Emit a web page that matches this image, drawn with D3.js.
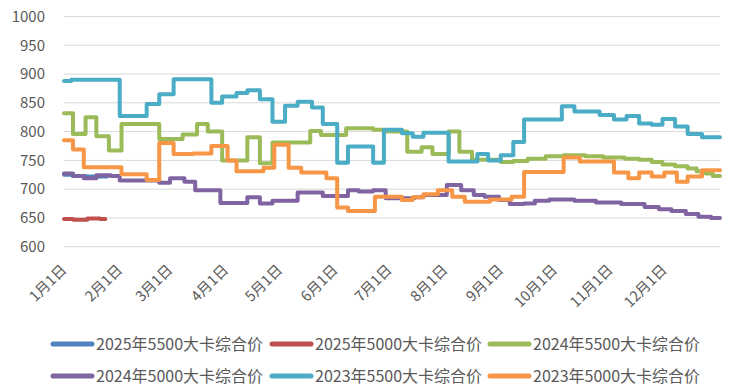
<!DOCTYPE html>
<html><head><meta charset="utf-8">
<script src="https://cdn.jsdelivr.net/npm/d3@7"></script>
<style>
html,body{margin:0;padding:0;background:#fff;}
text{font-family:"Noto Sans CJK SC","Noto Sans",sans-serif;fill:#595959;}
</style></head>
<body><svg id="c" width="734" height="390"></svg>
<script>
// ---- data (day of year, value at change points) ----
const seriesNames = ["2025年5500大卡综合价","2025年5000大卡综合价","2024年5500大卡综合价","2024年5000大卡综合价","2023年5500大卡综合价","2023年5000大卡综合价"];
const seriesColors = ["#4f81bd","#c0504d","#9bbb59","#8064a2","#4bacc6","#f79646"];
const yTicks = [600,650,700,750,800,850,900,950,1000];
const monthStartDays = [0,31,59,90,120,151,181,212,243,273,304,334];
const monthLabels = ["1月1日","2月1日","3月1日","4月1日","5月1日","6月1日","7月1日","8月1日","9月1日","10月1日","11月1日","12月1日"];

const days2025_5500 = [0,5,12,24];
const vals2025_5500 = [725,723,722,722];
const days2025_5000 = [0,5,13,20,23];
const vals2025_5000 = [648,647,649,648,648];
const days2024_5500 = [0,5,12,18,25,32,53,66,74,80,88,102,109,116,137,143,157,172,178,191,199,205,214,220,227,243,250,258,268,278,290,300,312,320,327,333,340,347,352,357,361,365];
const vals2024_5500 = [832,796,825,792,767,813,787,795,813,800,750,790,745,781,801,794,806,803,800,765,773,761,800,765,751,747,749,753,757,759,757,755,753,751,747,743,740,736,731,727,723,723];
const days2024_5000 = [0,5,11,18,26,31,53,59,67,73,87,102,109,116,130,144,158,164,172,179,195,200,213,221,228,234,242,248,256,262,270,284,296,310,323,331,338,346,353,360,365];
const vals2024_5000 = [727,723,719,724,723,715,711,719,713,698,676,686,675,680,694,688,698,696,698,684,686,690,707,698,690,687,681,674,675,680,682,680,677,674,669,665,662,657,652,650,650];
const days2023_5500 = [0,4,31,46,53,61,82,88,96,102,109,116,123,130,138,144,152,158,172,178,188,194,200,214,230,236,243,250,256,277,284,298,306,313,320,327,333,340,347,355,365];
const vals2023_5500 = [888,890,827,848,865,891,850,861,867,872,856,817,845,852,842,813,746,774,746,803,797,791,798,748,761,750,759,782,821,844,835,829,821,827,814,812,822,809,796,790,790];
const days2023_5000 = [0,5,11,32,46,53,61,72,82,91,96,111,117,125,132,146,152,158,173,188,194,200,208,216,223,237,249,256,278,287,306,314,320,327,334,341,347,355,365];
const vals2023_5000 = [785,769,738,726,716,780,761,762,775,750,731,737,777,737,729,719,668,662,687,681,686,691,698,687,678,682,687,730,755,748,729,719,729,722,729,713,722,733,733];

const allDays = [days2025_5500,days2025_5000,days2024_5500,days2024_5000,days2023_5500,days2023_5000];
const allVals = [vals2025_5500,vals2025_5000,vals2024_5500,vals2024_5000,vals2023_5500,vals2023_5000];

// ---- chart ----
const svg = d3.select("#c");
const x = d3.scaleLinear().domain([0,365]).range([64,720]);
const y = d3.scaleLinear().domain([600,1000]).range([246.7,16.5]);

// gridlines
svg.append("g").selectAll("line").data(yTicks).join("line")
  .attr("x1",x(0)).attr("x2",x(365))
  .attr("y1",d=>y(d)).attr("y2",d=>y(d))
  .attr("stroke","#d9d9d9").attr("stroke-width",1);

// y axis
const yAxis = d3.axisLeft(y).tickValues(yTicks).tickSize(0).tickPadding(0).tickFormat(d3.format("d"));
const gy = svg.append("g").attr("transform","translate(45,0)").call(yAxis);
gy.select(".domain").remove();
gy.selectAll("text").attr("font-size","15px").attr("fill","#595959")
  .style("font-family",'"Noto Sans CJK SC","Noto Sans",sans-serif');

// x axis labels
const xAxis = d3.axisBottom(x).tickValues(monthStartDays).tickSize(0).tickFormat((d,i)=>monthLabels[i]);
const gx = svg.append("g").attr("transform","translate(0,246.7)").call(xAxis);
gx.select(".domain").remove();
gx.selectAll("text")
  .attr("font-size","14.5px").attr("fill","#595959")
  .style("font-family",'"Noto Sans CJK SC","Noto Sans",sans-serif')
  .attr("text-anchor","end").attr("dy",null).attr("y",0)
  .attr("transform","translate(3,24) rotate(-45)");

// lines
const line = d3.line().x(d=>x(d[0])).y(d=>y(d[1])).curve(d3.curveStepAfter);
allDays.forEach((days,i)=>{
  const pts = days.map((d,j)=>[d,allVals[i][j]]);
  svg.append("path").datum(pts).attr("d",line)
    .attr("fill","none").attr("stroke",seriesColors[i])
    .attr("stroke-width",4).attr("stroke-linejoin","round").attr("stroke-linecap","round");
});

// legend
const legX = [53,272,490];
const legY = [344,376];
seriesNames.forEach((name,i)=>{
  const col = i%3, row = Math.floor(i/3);
  const g = svg.append("g").attr("transform",`translate(${legX[col]},${legY[row]})`);
  g.append("line").attr("x1",0).attr("x2",39).attr("y1",0).attr("y2",0)
    .attr("stroke",seriesColors[i]).attr("stroke-width",5).attr("stroke-linecap","round");
  g.append("text").attr("x",43).attr("y",0).attr("dy","0.35em")
    .attr("font-size","16px").text(name);
});
</script></body></html>
